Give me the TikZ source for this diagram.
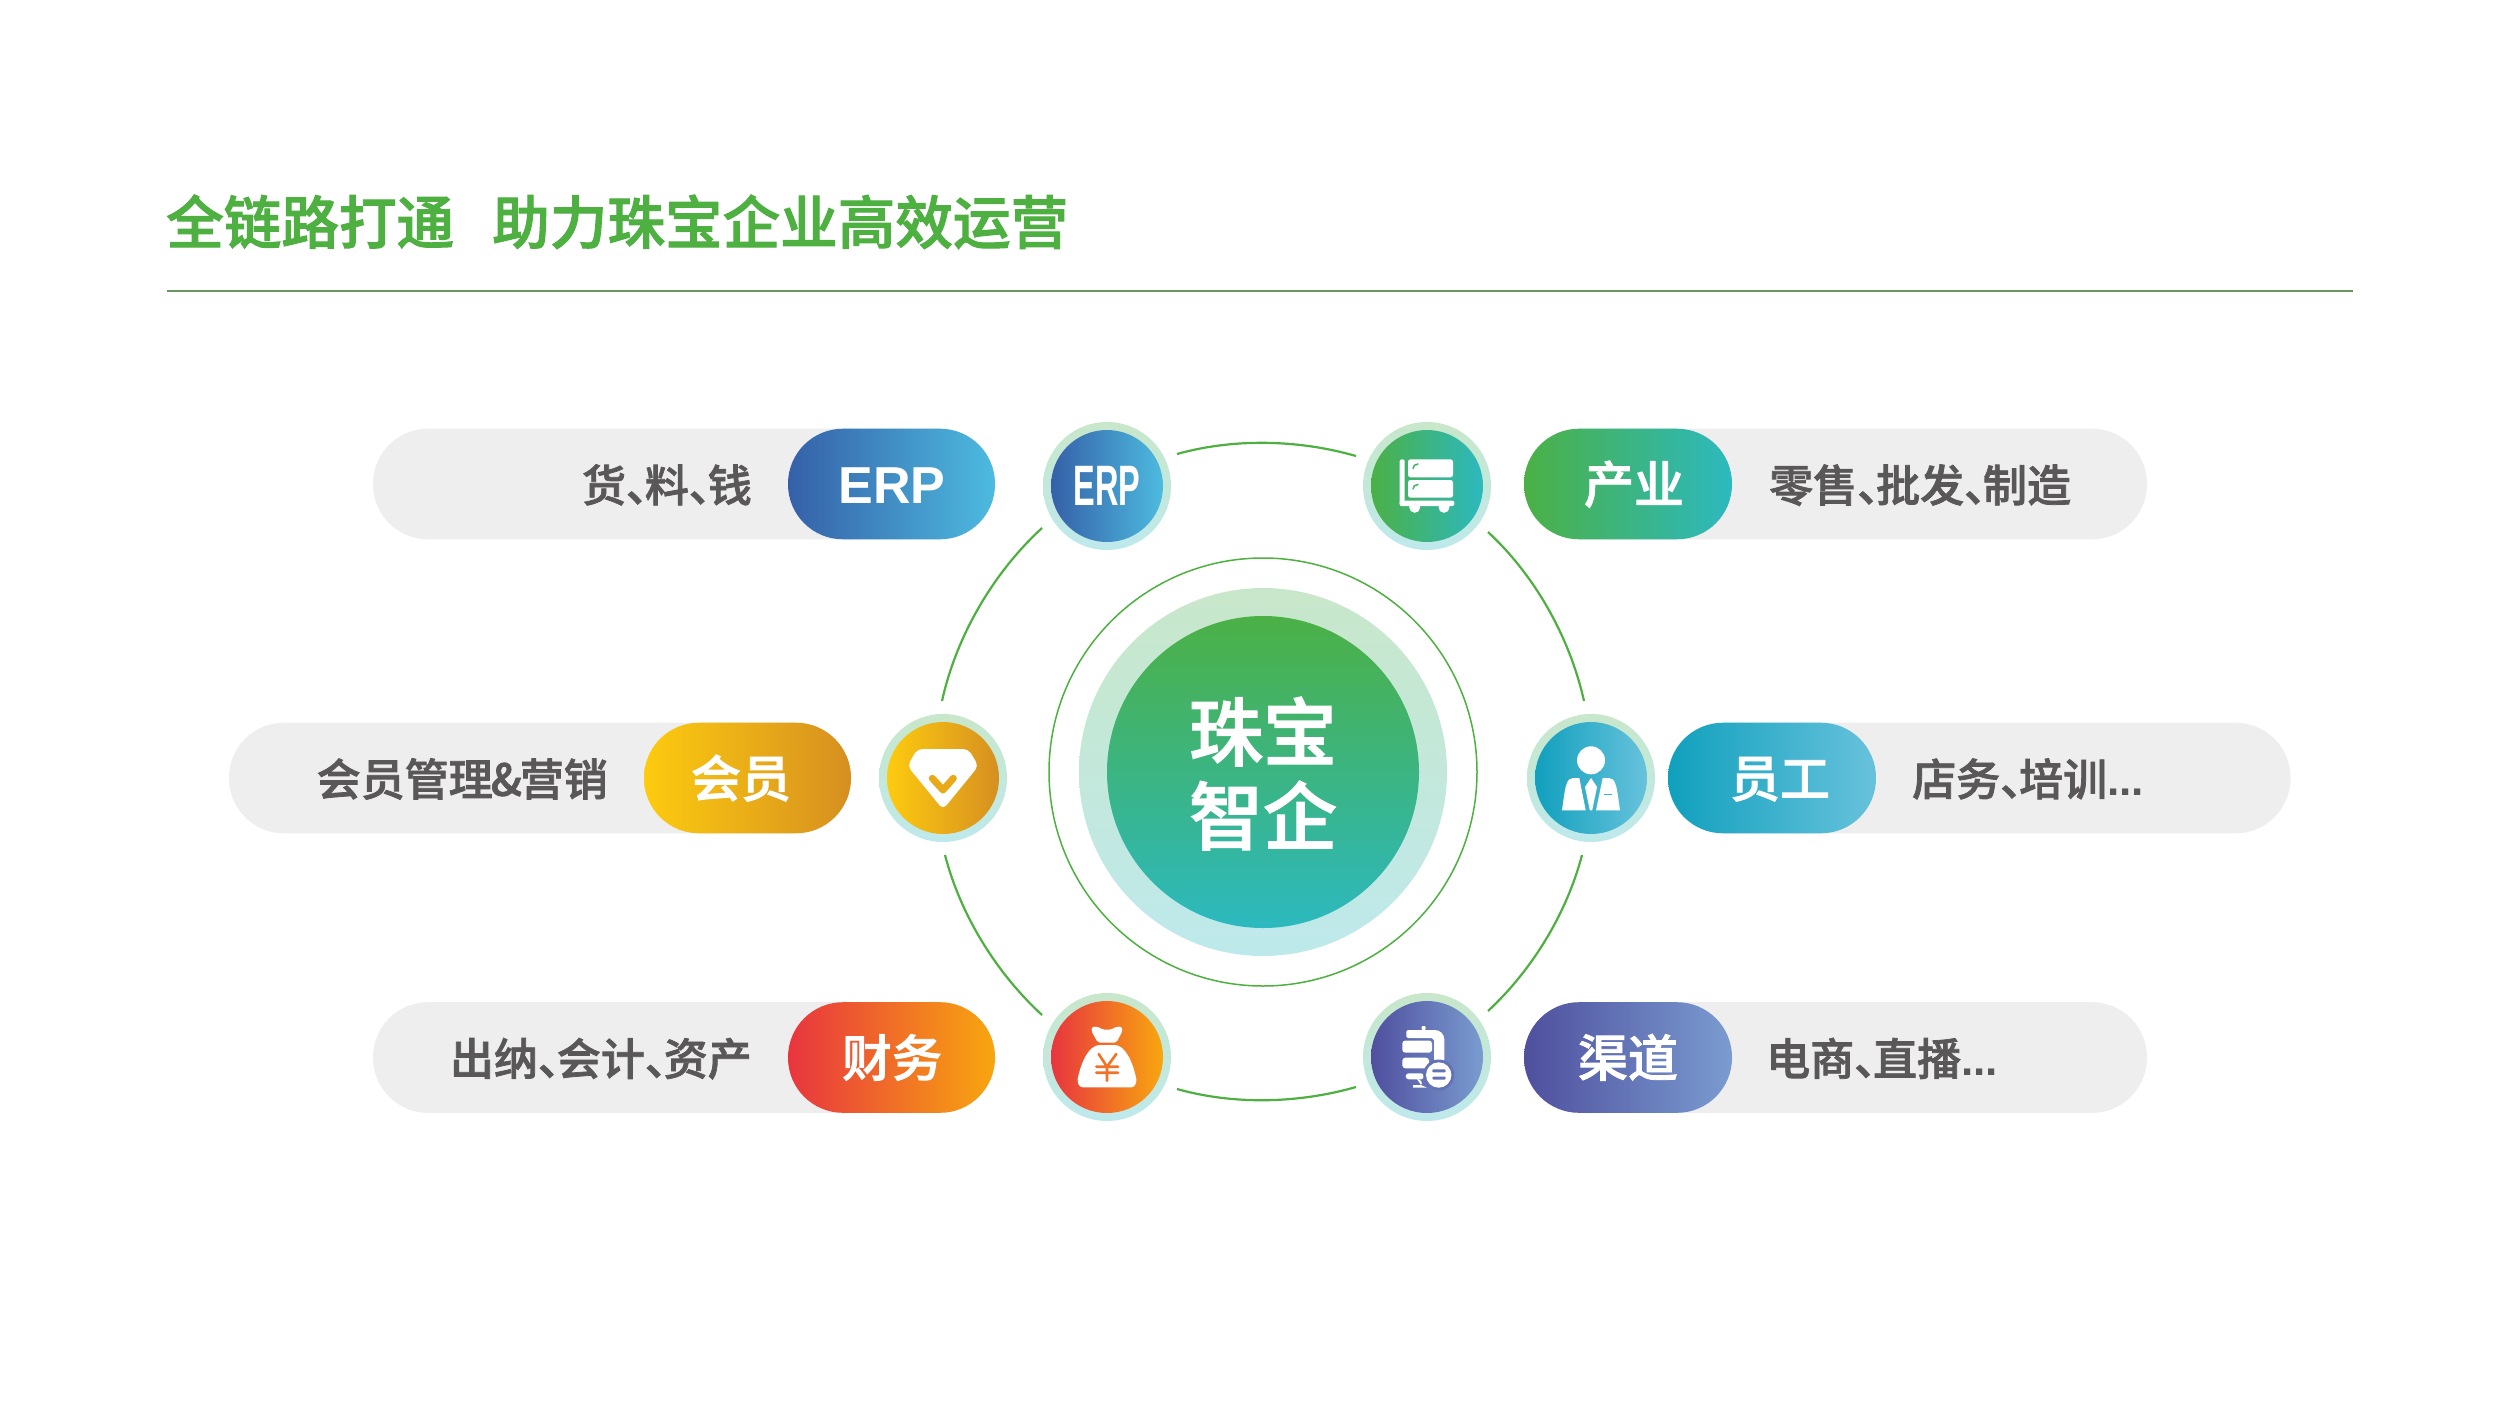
\documentclass[tikz,border=0pt]{standalone}
\usepackage{fontspec}
\setmainfont{Noto Sans CJK SC}[BoldFont={Noto Sans CJK SC Medium},BoldFeatures={FakeBold=1.7}]
\newfontfamily\latinbold{Liberation Sans}
\newcommand\dun{\makebox[.43em][l]{、}}
\newcommand\threedots{{\latinbold\bfseries ...}}
\definecolor{orbit}{HTML}{4DB040}
\definecolor{haloTop}{HTML}{C8E7CA}
\definecolor{haloBot}{HTML}{BEE9EC}
\tikzset{
  x=1pt,y=1pt,
  graypill/.style={rectangle,rounded corners=55pt,fill=pillgray,minimum height=110.6pt,inner sep=0},
  colpill/.style={rectangle,rounded corners=55pt,minimum height=110.6pt,inner sep=0,left color=#1L,right color=#1R},
  halo/.style={circle,inner sep=0,minimum size=128pt,top color=haloTop,bottom color=haloBot},
  disc/.style={circle,inner sep=0,minimum size=112pt,left color=#1L,right color=#1R},
  lab/.style={inner sep=0,text=labgray,font=\fontsize{44}{44}\selectfont\bfseries,text height=38.7pt,text depth=5.3pt},
  pilltxt/.style={inner sep=0,text=white,font=\fontsize{50}{50}\selectfont\bfseries,text height=44pt,text depth=6pt},
  orbitarc/.style={draw=orbit,line width=2.2pt,looseness=.85},
  ico/.style={fill=white,draw=none},
}
\definecolor{pillgray}{HTML}{EEEEEE}
\definecolor{labgray}{HTML}{595757}
\definecolor{blueL}{HTML}{3560A8}\definecolor{blueR}{HTML}{4DBBE0}
\definecolor{greenL}{HTML}{4BB045}\definecolor{greenR}{HTML}{2CB9BF}
\definecolor{goldL}{HTML}{FDCB0F}\definecolor{goldR}{HTML}{D68F20}
\definecolor{tealL}{HTML}{10A0BD}\definecolor{tealR}{HTML}{68C2DC}
\definecolor{redL}{HTML}{E8353F}\definecolor{redR}{HTML}{F8A60F}
\definecolor{purpL}{HTML}{4F4F9E}\definecolor{purpR}{HTML}{7A9CD0}
\begin{document}
\begin{tikzpicture}
\useasboundingbox (0,0) rectangle (2520,-1417);
\fill[white] (0,0) rectangle (2520,-1417);
% title
\node[anchor=west,inner sep=0,text=orbit,font=\fontsize{57.6}{57.6}\selectfont\bfseries,text height=50.6pt,text depth=6.9pt] (title) at (166,-222) {全链路打通\hspace{.66em}助力珠宝企业高效运营};
\coordinate (ruleL) at (167,-291);
\coordinate (ruleR) at (2353,-291);
\draw[draw=orbit!50!gray,line width=1.3pt] (ruleL) -- (ruleR);
% centre
\node[circle,inner sep=0,minimum size=428pt,draw=orbit,line width=1.5pt] (ring) at (1263,-772) {};
\node[circle,inner sep=0,minimum size=368pt,top color=haloTop,bottom color=haloBot] (chalo) at (1263,-772) {};
\node[circle,inner sep=0,minimum size=312pt,top color=greenL,bottom color=greenR] (core) at (1263,-772) {};
\node[inner sep=0,text=white,font=\fontsize{74}{74}\selectfont\bfseries,text height=65pt,text depth=9pt] (c1) at (1263,-732) {珠宝};
\node[inner sep=0,text=white,font=\fontsize{74}{74}\selectfont\bfseries,text height=65pt,text depth=9pt] (c2) at (1263,-816) {智企};
% pills top left
\node[graypill,minimum width=622pt] (p1) at (684,-484) {};
\node[colpill=blue,minimum width=207pt] (q1) at (891.5,-484) {};
\node[pilltxt,font=\fontsize{52}{52}\selectfont\latinbold\bfseries] (q1t) at (892,-484) {ERP};
\node[lab,anchor=east] (l1) at (752,-485) {货\dun 料\dun 钱};
% mid left
\node[graypill,minimum width=622pt] (p2) at (540,-778) {};
\node[colpill=gold,minimum width=207pt] (q2) at (747.5,-778) {};
\node[pilltxt] (q2t) at (741,-778) {会员};
\node[lab,anchor=east] (l2) at (608,-779) {会员管理\kern-2pt\&\kern-2pt 营销};
% bottom left
\node[graypill,minimum width=622pt] (p3) at (684,-1057.5) {};
\node[colpill=red,minimum width=207pt] (q3) at (891.5,-1057.5) {};
\node[pilltxt] (q3t) at (892,-1057.5) {财务};
\node[lab,anchor=east] (l3) at (752,-1058.5) {出纳\dun 会计\dun 资产};
% top right
\node[graypill,minimum width=623pt] (p4) at (1835.5,-484) {};
\node[colpill=green,minimum width=208pt] (q4) at (1628,-484) {};
\node[pilltxt] (q4t) at (1634,-484) {产业};
\node[lab,anchor=west] (l4) at (1769,-485) {零售\dun 批发\dun 制造};
% mid right
\node[graypill,minimum width=622pt] (p5) at (1979.5,-778) {};
\node[colpill=teal,minimum width=208pt] (q5) at (1772,-778) {};
\node[pilltxt] (q5t) at (1780,-778) {员工};
\node[lab,anchor=west] (l5) at (1912,-779) {店务\dun 培训\threedots};
% bottom right
\node[graypill,minimum width=623pt] (p6) at (1835.5,-1057.5) {};
\node[colpill=purp,minimum width=208pt] (q6) at (1628,-1057.5) {};
\node[pilltxt] (q6t) at (1628,-1057.5) {渠道};
\node[lab,anchor=west] (l6) at (1766,-1058.5) {电商\dun 直播\threedots};
% icon circles
\foreach \n/\x/\y/\c in {erp/1107/486/blue,truck/1427/486/green,gem/943/778/gold,man/1591/778/teal,bag/1107/1057/red,chan/1427/1057/purp}{
  \node[halo] (h\n) at (\x,-\y) {};
  \node[disc=\c] (d\n) at (\x,-\y) {};
}
% orbit arcs
\coordinate (a1) at (1177,-454); \coordinate (a2) at (1356,-456);
\coordinate (a3) at (1488,-532); \coordinate (a4) at (1584,-701);
\coordinate (a5) at (1582,-855); \coordinate (a6) at (1488,-1011);
\coordinate (a7) at (1356,-1087); \coordinate (a8) at (1177,-1089);
\coordinate (a9) at (1042,-1015); \coordinate (a10) at (945,-855);
\coordinate (a11) at (942,-701); \coordinate (a12) at (1042,-528);
\draw[orbitarc] (a1) to[out=15.6,in=164] (a2);
\draw[orbitarc] (a3) to[out=-42.8,in=102.6] (a4);
\draw[orbitarc] (a5) to[out=-104.7,in=42.9] (a6);
\draw[orbitarc] (a7) to[out=-164,in=-15.7] (a8);
\draw[orbitarc] (a9) to[out=137.3,in=-75.5] (a10);
\draw[orbitarc] (a11) to[out=77.6,in=-137.4] (a12);
% ERP icon
\node[inner sep=0,text=white,font=\fontsize{57}{57}\selectfont\latinbold\bfseries] (erpi) at (derp) {\scalebox{.57}[1]{ERP}};
% truck icon
\begin{scope}[shift={(dtruck.center)}]
 \fill[ico,rounded corners=2pt] (-27.3,26.7) rectangle (-22.3,-20);
 \fill[ico,rounded corners=2pt] (-27.3,-14.7) rectangle (27.3,-20);
 \fill[ico] (-12.3,-21.3) circle[radius=5.5];
 \fill[ico] (17,-21.3) circle[radius=5.5];
 \fill[ico,rounded corners=2.5pt] (-19,26.7) rectangle (26,8.7);
 \fill[ico,rounded corners=2.5pt] (-19,6) rectangle (26,-11.7);
 \draw[draw=greenL!70!greenR,line width=1.5pt,line cap=round] (-9,22) .. controls (-12,22) and (-14,20) .. (-14,17.5);
 \draw[draw=greenL!70!greenR,line width=1.5pt,line cap=round] (-9,1.5) .. controls (-12,1.5) and (-14,-.5) .. (-14,-3);
\end{scope}
% gem icon
\begin{scope}[shift={(dgem.center)}]
 \fill[ico,rounded corners=5pt] (-25.7,29) -- (25.3,29) -- (35.5,12) -- (0,-31.5) -- (-35.5,12) -- cycle;
 \draw[draw=goldL!45!goldR,line width=7pt,line cap=round,line join=round] (-10.7,-.3) -- (0,-12) -- (10.3,-.3);
\end{scope}
% man icon
\begin{scope}[shift={(dman.center)}]
 \fill[ico] (0,17.7) circle[radius=14];
 \fill[ico] (-29,-32.3) .. controls (-27,-18) and (-26,-10) .. (-24.3,-5.7) .. controls (-23,-2) and (-21,0) .. (-18,0) -- (-11.7,0) -- (-5.3,-32.3) -- cycle;
 \fill[ico] (29,-32.3) .. controls (27,-18) and (26,-10) .. (24.3,-5.7) .. controls (23,-2) and (21,0) .. (18,0) -- (11.7,0) -- (5,-32.3) -- cycle;
 \fill[ico] (0,0) -- (-6,-9) -- (-1.2,-32.3) -- (1.2,-32.3) -- (6,-9) -- cycle;
 \draw[draw=tealL!50!tealR,line width=1.5pt] (13,-16.7) -- (20.7,-16.7);
\end{scope}
% bag icon
\begin{scope}[shift={(dbag.center)}]
 \fill[ico,rounded corners=2pt] (-15.7,26) .. controls (-15,30.5) and (-11,31) .. (-7,29) .. controls (-3,27) and (3,27) .. (7,29) .. controls (11,31) and (15,30.5) .. (15.5,26) -- (9.3,14.3) -- (-9,14.3) -- cycle;
 \fill[ico] (-7.3,12) -- (7.7,12) .. controls (18,12) and (26,-5) .. (29.3,-22) .. controls (30,-27) and (27,-30.3) .. (24.3,-30.3) -- (-24.3,-30.3) .. controls (-27,-30.3) and (-30,-27) .. (-29.3,-22) .. controls (-26,-5) and (-18,12) .. (-7.3,12) -- cycle;
 \draw[draw=redL!45!redR,line width=2.6pt,line cap=round,line join=round] (-8.3,3) -- (0,-9.7) -- (9.3,3) (0,-9.7) -- (0,-23.7) (-10.7,-9.7) -- (11,-9.7) (-10.7,-15.7) -- (11,-15.7);
\end{scope}
% channel icon
\begin{scope}[shift={(dchan.center)}]
 \fill[ico,rounded corners=1.5pt] (-20.7,27) -- (6,27) .. controls (13,27) and (17.3,23) .. (17.3,16) -- (17.3,-4) -- (7,-4) -- (7,15) .. controls (7,17) and (5,19) .. (3,19) -- (-20.7,19) -- cycle;
 \fill[ico,rounded corners=1pt] (-5.5,27) rectangle (-1.5,31);
 \fill[ico,rounded corners=3pt] (-24.7,16.5) rectangle (5,4.3);
 \fill[ico,rounded corners=3pt] (-24.7,-.7) rectangle (2,-11.3);
 \fill[ico,rounded corners=3pt] (-21.3,-16.3) rectangle (-3,-22.3);
 \fill[ico] (-10,-22) .. controls (-6,-22) and (-4,-26) .. (-6,-28) -- (0,-30.7) -- (-14,-30.7) -- (-14,-28) -- (-6,-28) -- cycle;
 \fill[purpL!55!purpR] (11.7,-18) circle[radius=15.5];
 \fill[ico] (11.7,-18) circle[radius=12.7];
 \fill[purpL!55!purpR,rounded corners=1pt] (5.3,-12.3) rectangle (18.7,-15.3);
 \fill[purpL!55!purpR,rounded corners=1pt] (5.3,-19.7) rectangle (18.7,-22.5);
\end{scope}
\end{tikzpicture}
\end{document}
